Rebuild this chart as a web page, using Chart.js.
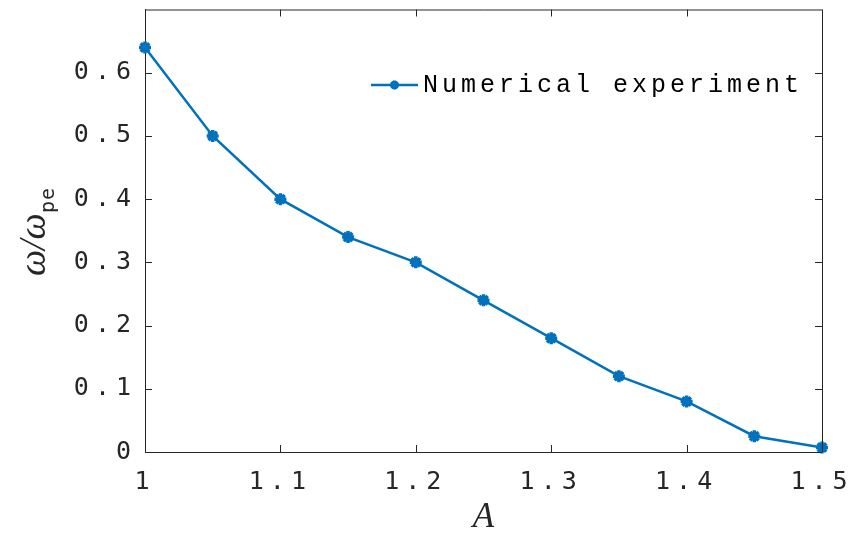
<!DOCTYPE html>
<html>
<head>
<meta charset="utf-8">
<script src="https://cdn.jsdelivr.net/npm/chart.js@4/dist/chart.umd.min.js"></script>
<style>
  html, body { margin: 0; padding: 0; background: #fff; }
  #wrap { width: 856px; height: 540px; }
</style>
</head>
<body>
<div id="wrap"><canvas id="plot" width="856" height="540"></canvas></div>
<script>
const aValues = [1, 1.05, 1.1, 1.15, 1.2, 1.25, 1.3, 1.35, 1.4, 1.45, 1.5]
const omegaValues = [0.64, 0.5, 0.4, 0.34, 0.3, 0.24, 0.18, 0.12, 0.08, 0.025, 0.007]
const xTicks = [1, 1.1, 1.2, 1.3, 1.4, 1.5]
const xTickLabels = ['1', '1.1', '1.2', '1.3', '1.4', '1.5']
const yTicks = [0, 0.1, 0.2, 0.3, 0.4, 0.5, 0.6]
const yTickLabels = ['0', '0.1', '0.2', '0.3', '0.4', '0.5', '0.6']
const seriesName = 'Numerical experiment'

const blue = '#0072BD'
const ink = '#262626'

// box, inward ticks, titles and legend, drawn on top of the chart
const matlabLook = {
  id: 'matlabLook',
  beforeDraw(chart) {
    chart.ctx.letterSpacing = '6px'
  },
  afterDraw(chart) {
    const {ctx, chartArea: area, scales: {x, y}} = chart
    ctx.save()
    ctx.letterSpacing = '0px'
    ctx.strokeStyle = ink
    ctx.lineWidth = 1
    ctx.beginPath()
    ctx.moveTo(area.left, area.top + 0.5)
    ctx.lineTo(area.right + 0.5, area.top + 0.5)
    ctx.lineTo(area.right + 0.5, area.bottom)
    const len = 7
    xTicks.forEach(v => {
      const px = Math.round(x.getPixelForValue(v)) + 0.5
      ctx.moveTo(px, area.bottom); ctx.lineTo(px, area.bottom - len)
      ctx.moveTo(px, area.top); ctx.lineTo(px, area.top + len)
    })
    yTicks.forEach(v => {
      const py = Math.round(y.getPixelForValue(v)) + 0.5
      ctx.moveTo(area.left, py); ctx.lineTo(area.left + len, py)
      ctx.moveTo(area.right, py); ctx.lineTo(area.right - len, py)
    })
    ctx.stroke()

    // x title
    ctx.fillStyle = ink
    ctx.font = 'italic 35px "Liberation Serif"'
    ctx.textAlign = 'center'
    ctx.textBaseline = 'alphabetic'
    ctx.fillText('A', (area.left + area.right) / 2, 527)

    // y title, rotated
    ctx.save()
    ctx.translate(45, 276)
    ctx.rotate(-Math.PI / 2)
    ctx.textAlign = 'left'
    ctx.font = 'italic 37px "Liberation Serif"'
    ctx.fillText('ω/ω', 0, 0)
    ctx.font = '20px "DejaVu Sans Mono"'
    ctx.letterSpacing = '1px'
    ctx.fillText('pe', 63, 9)
    ctx.restore()

    // legend
    const ly = 85
    ctx.strokeStyle = blue
    ctx.lineWidth = 2.5
    ctx.beginPath()
    ctx.moveTo(371, ly); ctx.lineTo(418, ly)
    ctx.stroke()
    ctx.lineWidth = 3
    ctx.beginPath()
    for (let i = 0; i < 4; i++) {
      const a = i * Math.PI / 4
      ctx.moveTo(394.5 - 4.5 * Math.cos(a), ly - 4.5 * Math.sin(a))
      ctx.lineTo(394.5 + 4.5 * Math.cos(a), ly + 4.5 * Math.sin(a))
    }
    ctx.stroke()
    ctx.fillStyle = '#000'
    ctx.font = '25px "Liberation Mono"'
    ctx.letterSpacing = '4px'
    ctx.textAlign = 'left'
    ctx.textBaseline = 'middle'
    ctx.fillText(seriesName, 423, ly)
    ctx.restore()
  }
}

new Chart(document.getElementById('plot'), {
  type: 'line',
  data: {
    datasets: [{
      label: seriesName,
      data: aValues.map((a, i) => ({x: a, y: omegaValues[i]})),
      borderColor: blue,
      backgroundColor: blue,
      borderWidth: 2.5,
      pointStyle: 'star',
      pointRadius: 6,
      pointBorderWidth: 3.5,
      pointHoverRadius: 6,
      clip: false,
      tension: 0
    }]
  },
  options: {
    responsive: false,
    animation: false,
    events: [],
    layout: {padding: {left: 0, right: 34, top: 7, bottom: 0}},
    plugins: {legend: {display: false}, tooltip: {enabled: false}},
    scales: {
      x: {
        type: 'linear',
        min: 1,
        max: 1.5,
        afterBuildTicks: scale => { scale.ticks = xTicks.map(v => ({value: v})) },
        afterFit: scale => { scale.height = 88; scale.paddingLeft = 0; scale.paddingRight = 0 },
        grid: {display: false, drawTicks: false},
        border: {display: true, color: ink, width: 1},
        ticks: {
          padding: 15,
          maxRotation: 0,
          color: ink,
          font: {family: 'DejaVu Sans Mono', size: 25},
          callback: (v, i) => xTickLabels[i]
        }
      },
      y: {
        type: 'linear',
        min: 0,
        max: 0.7,
        afterBuildTicks: scale => { scale.ticks = yTicks.map(v => ({value: v})) },
        afterFit: scale => { scale.width = 145; scale.paddingTop = 0; scale.paddingBottom = 0 },
        grid: {display: false, drawTicks: false},
        border: {display: true, color: ink, width: 1},
        ticks: {
          padding: 8,
          color: ink,
          font: {family: 'DejaVu Sans Mono', size: 25},
          callback: (v, i) => yTickLabels[i]
        }
      }
    }
  },
  plugins: [matlabLook]
})
</script>
</body>
</html>
